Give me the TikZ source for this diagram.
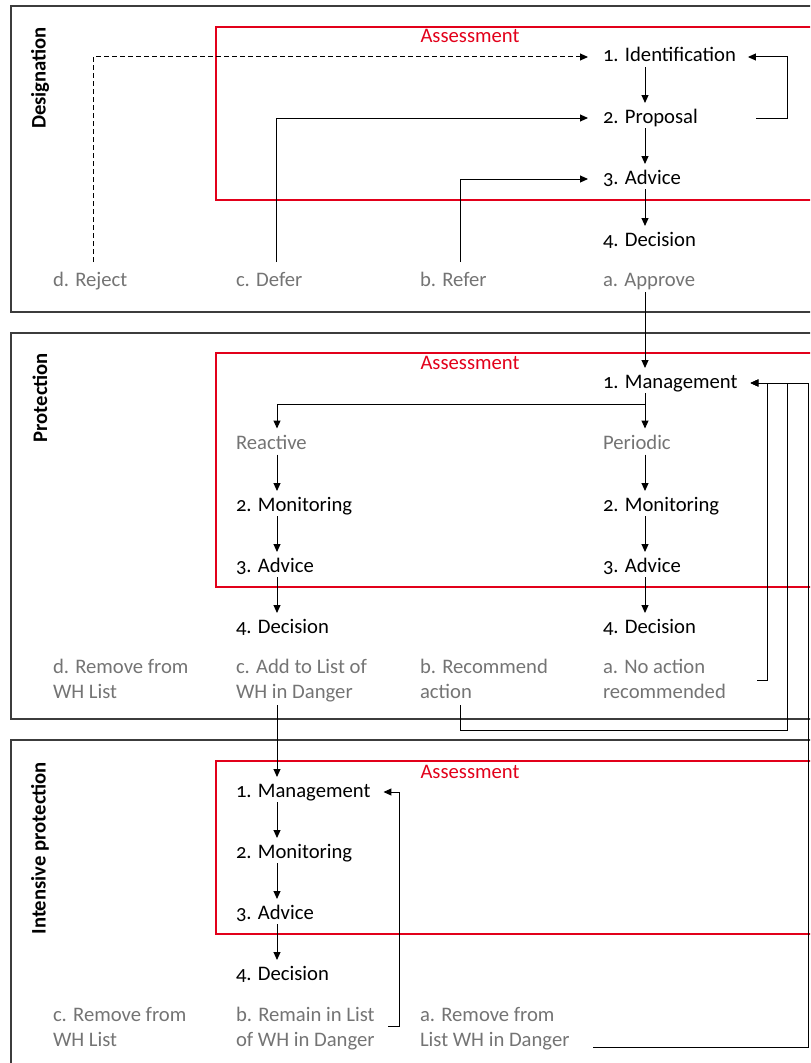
\documentclass[tikz,border=0pt]{standalone}
\usepackage{fontspec}
\setmainfont{Carlito}[Numbers=OldStyle]
\usetikzlibrary{arrows.meta,calc}
\definecolor{redA}{HTML}{E2001A}
\definecolor{grayT}{HTML}{747474}
\definecolor{frameC}{HTML}{3C3C3C}
\newcommand\twol[2]{\begin{tabular}[t]{@{}l@{}}#1\\#2\end{tabular}}
\begin{document}
\begin{tikzpicture}[x=0.75pt,y=-0.75pt,
  every node/.style={inner sep=0pt, outer sep=0pt, font=\fontsize{15.5}{18.75}\selectfont},
  stage/.style={anchor=base west, text=black},
  outc/.style={anchor=base west, text=grayT},
  secbox/.style={draw=frameC, line width=1pt},
  assess/.style={draw=redA, line width=0.8pt},
  asslabel/.style={anchor=base, text=redA},
  seclabel/.style={rotate=90, anchor=east, font=\bfseries\fontsize{15.5}{18.75}\selectfont},
  conn/.style={draw=black, line width=0.75pt},
  arr/.style={conn, -{Triangle[length=6pt,width=5.25pt]}},
  dashline/.style={dash pattern=on 3.5pt off 2.5pt},
]
\path[use as bounding box] (0,0) rectangle (810,1063);
\clip (0,0) rectangle (810,1063);

% ---------------- Designation ----------------
\draw[secbox] (11,6) rectangle (840,312);
\draw[assess] (216,27) rectangle (840,200);
\node[asslabel] (as1) at (470,43) {Assessment};
\node[seclabel] (lab1) at (40,27) {Designation};
\node[stage] (d1) at (603,62) {1. Identification};
\node[stage] (d2) at (603,123) {2. Proposal};
\node[stage] (d3) at (603,184) {3. Advice};
\node[stage] (d4) at (603,246) {4. Decision};
\node[outc] (dd) at (53,286) {d. Reject};
\node[outc] (dc) at (236,286) {c. Defer};
\node[outc] (db) at (420,286) {b. Refer};
\node[outc] (da) at (603,286) {a. Approve};

\draw[arr] ($(d1.base west)+(42,5)$) -- ($(d2.base west)+(42,-20)$);
\draw[arr] ($(d2.base west)+(42,5)$) -- ($(d3.base west)+(42,-20)$);
\draw[arr] ($(d3.base west)+(42,5)$) -- ($(d4.base west)+(42,-20)$);
\draw[arr,dashline] ($(dd.base west)+(40,-24)$) |- ($(d1.base west)+(-15,-5)$);
\draw[arr] ($(dc.base west)+(40,-24)$) |- ($(d2.base west)+(-15,-5)$);
\draw[arr] ($(db.base west)+(40,-24)$) |- ($(d3.base west)+(-15,-5)$);
\draw[arr] ($(d2.base west)+(153,-5)$) -- ($(d2.base west)+(184,-5)$) -- ($(d1.base west)+(184,-5)$) -- ($(d1.base east)+(12,-5)$);

% ---------------- Protection ----------------
\draw[secbox] (11,333) rectangle (840,719);
\draw[assess] (216,353) rectangle (840,587);
\node[asslabel] (as2) at (470,369) {Assessment};
\node[seclabel] (lab2) at (40,353) {Protection};
\node[stage] (p1) at (603,388) {1. Management};
\node[outc] (pP) at (603,449.5) {Periodic};
\node[stage] (p2) at (603,511) {2. Monitoring};
\node[stage] (p3) at (603,572) {3. Advice};
\node[stage] (p4) at (603,633) {4. Decision};
\node[outc] (pR) at (236,449.5) {Reactive};
\node[stage] (q2) at (236,511) {2. Monitoring};
\node[stage] (q3) at (236,572) {3. Advice};
\node[stage] (q4) at (236,633) {4. Decision};
\node[outc] (pd) at (53,673) {\twol{d. Remove from}{WH List}};
\node[outc] (pc) at (236,673) {\twol{c. Add to List of}{WH in Danger}};
\node[outc] (pb) at (420,673) {\twol{b. Recommend}{action}};
\node[outc] (pa) at (603,673) {\twol{a. No action}{recommended}};

\draw[arr] ($(da.base west)+(42,6)$) -- ($(p1.base west)+(42,-20)$);
\draw[arr] ($(p1.base west)+(42,5)$) -- ($(pP.base west)+(42,-21)$);
\draw[arr] ($(pP.base west)+(42,5)$) -- ($(p2.base west)+(42,-20)$);
\draw[arr] ($(p2.base west)+(42,5)$) -- ($(p3.base west)+(42,-20)$);
\draw[arr] ($(p3.base west)+(42,5)$) -- ($(p4.base west)+(42,-20)$);
\draw[arr] ($(p1.base west)+(42,16)$) -| ($(pR.base west)+(41,-21)$);
\draw[arr] ($(pR.base west)+(41,5)$) -- ($(q2.base west)+(41,-20)$);
\draw[arr] ($(q2.base west)+(41,5)$) -- ($(q3.base west)+(41,-20)$);
\draw[arr] ($(q3.base west)+(41,5)$) -- ($(q4.base west)+(41,-20)$);

\coordinate (mgIn) at ($(p1.base east)+(13,-5)$);
\draw[arr] ($(pa.base west)+(154,7)$) -| ($(p1.base west)+(164,-5)$) -- (mgIn);
\draw[arr] ($(pb.base west)+(40,32)$) -- ++(0,25) -| ($(p1.base west)+(184,-5)$) -- (mgIn);

% ---------------- Intensive protection ----------------
\draw[secbox] (11,740) rectangle (840,1100);
\draw[assess] (216,761) rectangle (840,934);
\node[asslabel] (as3) at (470,778) {Assessment};
\node[seclabel] (lab3) at (40,762) {Intensive protection};
\node[stage] (i1) at (236,797) {1. Management};
\node[stage] (i2) at (236,858) {2. Monitoring};
\node[stage] (i3) at (236,919) {3. Advice};
\node[stage] (i4) at (236,980) {4. Decision};
\node[outc] (ic) at (53,1021) {\twol{c. Remove from}{WH List}};
\node[outc] (ib) at (236,1021) {\twol{b. Remain in List}{of WH in Danger}};
\node[outc] (ia) at (420,1021) {\twol{a. Remove from}{List WH in Danger}};

\draw[arr] ($(pc.base west)+(41,32)$) -- ($(i1.base west)+(41,-20)$);
\draw[arr] ($(i1.base west)+(41,5)$) -- ($(i2.base west)+(41,-20)$);
\draw[arr] ($(i2.base west)+(41,5)$) -- ($(i3.base west)+(41,-20)$);
\draw[arr] ($(i3.base west)+(41,5)$) -- ($(i4.base west)+(41,-20)$);
\draw[arr] ($(ib.base west)+(152,5)$) -| ($(i1.base west)+(163,-5)$) -- ($(i1.base east)+(13,-5)$);
\draw[arr] ($(ia.base west)+(173,26)$) -| ($(p1.base west)+(205,-5)$) -- (mgIn);
\end{tikzpicture}
\end{document}
